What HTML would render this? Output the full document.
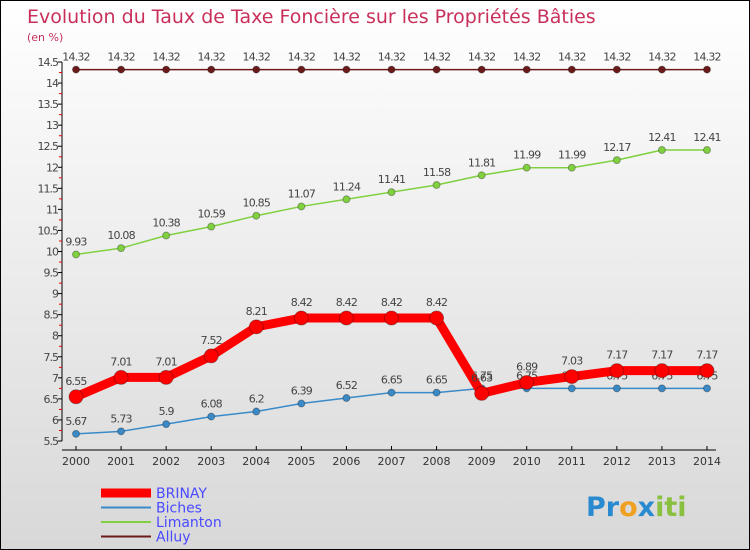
<!DOCTYPE html>
<html><head><meta charset="utf-8"><style>
body{margin:0}
#c{width:750px;height:550px;position:relative;box-sizing:border-box;border:1px solid #000;background:linear-gradient(#fff,#d8d8d8);font-family:"DejaVu Sans","Liberation Sans",sans-serif;overflow:hidden}
</style></head><body>
<div id="c">
<svg id="s" width="750" height="550" style="position:absolute;left:0;top:0">
<text x="26" y="22" font-size="19" fill="#c8305a">Evolution du Taux de Taxe Foncière sur les Propriétés Bâties</text>
<text x="26" y="40" font-size="11" fill="#c8305a">(en %)</text>
<g id="ax"></g><g id="plot"></g>
<text x="585" y="515" font-size="27" font-weight="bold"><tspan fill="#2a8ad0">Pr</tspan><tspan fill="#f0a020">o</tspan><tspan fill="#2a8ad0">x</tspan><tspan fill="#8ac040">iti</tspan></text>
</svg>
</div>
<script>
const years=[2000,2001,2002,2003,2004,2005,2006,2007,2008,2009,2010,2011,2012,2013,2014];
const alluy=[14.32,14.32,14.32,14.32,14.32,14.32,14.32,14.32,14.32,14.32,14.32,14.32,14.32,14.32,14.32];
const limanton=[9.93,10.08,10.38,10.59,10.85,11.07,11.24,11.41,11.58,11.81,11.99,11.99,12.17,12.41,12.41];
const biches=[5.67,5.73,5.9,6.08,6.2,6.39,6.52,6.65,6.65,6.75,6.75,6.75,6.75,6.75,6.75];
const brinay=[6.55,7.01,7.01,7.52,8.21,8.42,8.42,8.42,8.42,6.63,6.89,7.03,7.17,7.17,7.17];
const yTicks=[5.5,6,6.5,7,7.5,8,8.5,9,9.5,10,10.5,11,11.5,12,12.5,13,13.5,14,14.5];
const NS="http://www.w3.org/2000/svg";
const X=i=>75+i*(706-75)/(years.length-1);
const Y=v=>440-(v-5.5)*(440-61)/9;
function mk(p,t,a){const e=document.createElementNS(NS,t);for(const k in a)e.setAttribute(k,a[k]);p.appendChild(e);return e;}
const ax=document.getElementById('ax'),pl=document.getElementById('plot');
const yl=mk(ax,'line',{x1:61,x2:61,y1:61,y2:440,stroke:'#000'});

const xl=mk(ax,'line',{x1:61,x2:715,y1:449,y2:449,stroke:'#000'});

yTicks.forEach(v=>{
 mk(ax,'line',{x1:57,x2:61,y1:Y(v),y2:Y(v),stroke:'#000'});
 if(v<14.5)mk(ax,'line',{x1:58,x2:61,y1:Y(v)-10.5,y2:Y(v)-10.5,stroke:'#e00'});
 const t=mk(ax,'text',{x:57,y:Y(v)+4,'font-size':11,'text-anchor':'end',fill:'#444','letter-spacing':'-1'});t.textContent=v;
 
});
years.forEach((y,i)=>{
 mk(ax,'line',{x1:X(i),x2:X(i),y1:445,y2:449,stroke:'#000'});
 const t=mk(ax,'text',{x:X(i),y:464,'font-size':11,'text-anchor':'middle',fill:'#333'});t.textContent=y;
 
});
function series(d,col,w,r,name,dy){
 const l=mk(pl,'polyline',{points:d.map((v,i)=>X(i)+','+Y(v)).join(' '),fill:'none',stroke:col,'stroke-width':w,'stroke-linejoin':'round'});
 
 d.forEach((v,i)=>{
  const c=mk(pl,'circle',{cx:X(i),cy:Y(v),r:r,fill:col,stroke:'rgba(0,0,0,0.3)'});
  
  const t=mk(pl,'text',{x:X(i),y:Y(v)-dy,'font-size':11,'text-anchor':'middle',fill:'#444','letter-spacing':'-0.8'});t.textContent=v;
  
 });
}
series(alluy,'#6a1a1a',1.5,3.5,'alluy',9);
series(limanton,'#80d040',1.5,3.5,'limanton',9);
series(biches,'#3a8ac8',1.5,3.5,'biches',9);
series(brinay,'#ff0000',9,7,'brinay',12);
const leg=[['BRINAY','#ff0000',9],['Biches','#3a8ac8',2],['Limanton','#80d040',2],['Alluy','#6a1a1a',2]];
leg.forEach((e,i)=>{
 const y=492+i*14.5;
 const l=mk(pl,'line',{x1:100,x2:150,y1:y,y2:y,stroke:e[1],'stroke-width':e[2]});
 
 const t=mk(pl,'text',{x:155,y:y+5,'font-size':14,fill:'#4a4aff'});t.textContent=e[0];
 
});
</script>
</body></html>
